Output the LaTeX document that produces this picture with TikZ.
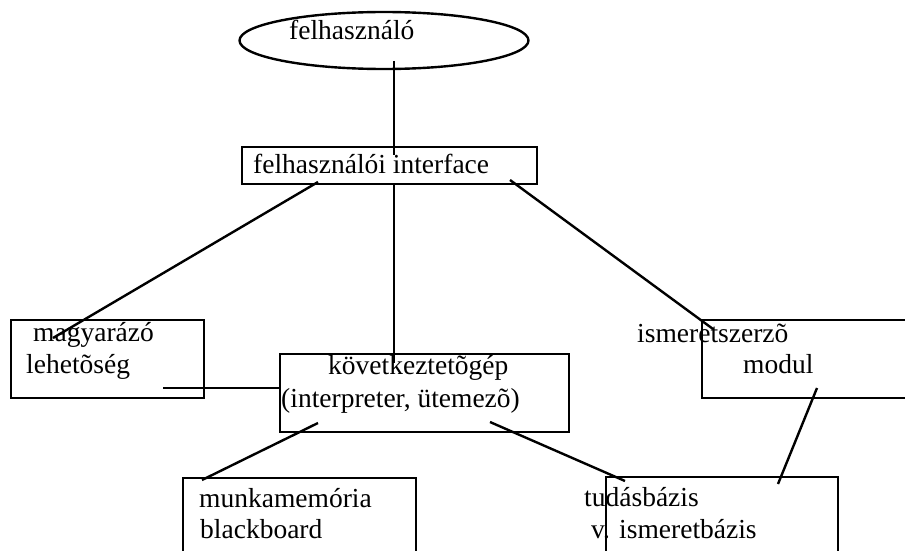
\documentclass[tikz,border=0pt]{standalone}
\usepackage{fontspec}
\setmainfont{Liberation Serif}
\usetikzlibrary{shapes.geometric}

\begin{document}
\begin{tikzpicture}
		[x=1pt, y=-1pt, line width=2.4pt,
		doboz/.style={draw, rectangle, anchor=north west, inner sep=0pt},
		felirat/.style={anchor=base west, inner sep=0pt, font=\fontsize{27.5}{31.6}\selectfont},
		vonal/.style={draw, line width=2.4pt},
		]

		\clip (0,0) rectangle (905,551);

		% dobozok
		\node[draw, ellipse, minimum width=289pt, minimum height=57pt] (felh) at (384,40.5) {};
		\node[doboz, minimum width=295pt, minimum height=37pt] (interf) at (241,146) {};
		\node[doboz, minimum width=193pt, minimum height=78pt] (magy) at (10,319) {};
		\node[doboz, minimum width=289pt, minimum height=78pt] (kov) at (279,353) {};
		\node[doboz, minimum width=230pt, minimum height=78pt] (ism) at (701,319) {};
		\node[doboz, minimum width=233pt, minimum height=90pt] (munka) at (182,477) {};
		\node[doboz, minimum width=232pt, minimum height=90pt] (tudas) at (605,476) {};

		% szovegek
		\node[felirat] (tfelh) at (288,40) {felhasználó};
		\node[felirat] (tinterf) at (252,173) {felhasználói interface};
		\node[felirat] (tmagy1) at (32,341) {magyarázó};
		\node[felirat] (tmagy2) at (25,373) {lehetõség};
		\node[felirat] (tkov1) at (327,374) {következtetõgép};
		\node[felirat] (tkov2) at (280,407) {(interpreter, ütemezõ)};
		\node[felirat] (tism1) at (636,342) {ismeretszerzõ};
		\node[felirat] (tism2) at (742,373) {modul};
		\node[felirat] (tmunka1) at (198,507) {munkamemória};
		\node[felirat] (tmunka2) at (199,538) {blackboard};
		\node[felirat] (ttudas1) at (583,506) {tudásbázis};
		\node[felirat] (ttudas2) at (590,538) {v. ismeretbázis};

		% vonalak vegpontjai
		\coordinate (f1) at (394,61);
		\coordinate (i1) at (394,155);
		\coordinate (i2) at (318,182);
		\coordinate (i3) at (394,183);
		\coordinate (i4) at (510,180);
		\coordinate (m1) at (53,338);
		\coordinate (m2) at (163,388);
		\coordinate (k1) at (394,363);
		\coordinate (k2) at (279,388);
		\coordinate (k3) at (318,423);
		\coordinate (k4) at (490,422);
		\coordinate (s1) at (713,329);
		\coordinate (s2) at (817,388);
		\coordinate (u1) at (202,480);
		\coordinate (t1) at (625,481);
		\coordinate (t2) at (778,484);

		\draw[vonal] (f1) -- (i1);
		\draw[vonal] (i2) -- (m1);
		\draw[vonal] (i3) -- (k1);
		\draw[vonal] (i4) -- (s1);
		\draw[vonal] (m2) -- (k2);
		\draw[vonal] (k3) -- (u1);
		\draw[vonal] (k4) -- (t1);
		\draw[vonal] (s2) -- (t2);
	\end{tikzpicture}
\end{document}
